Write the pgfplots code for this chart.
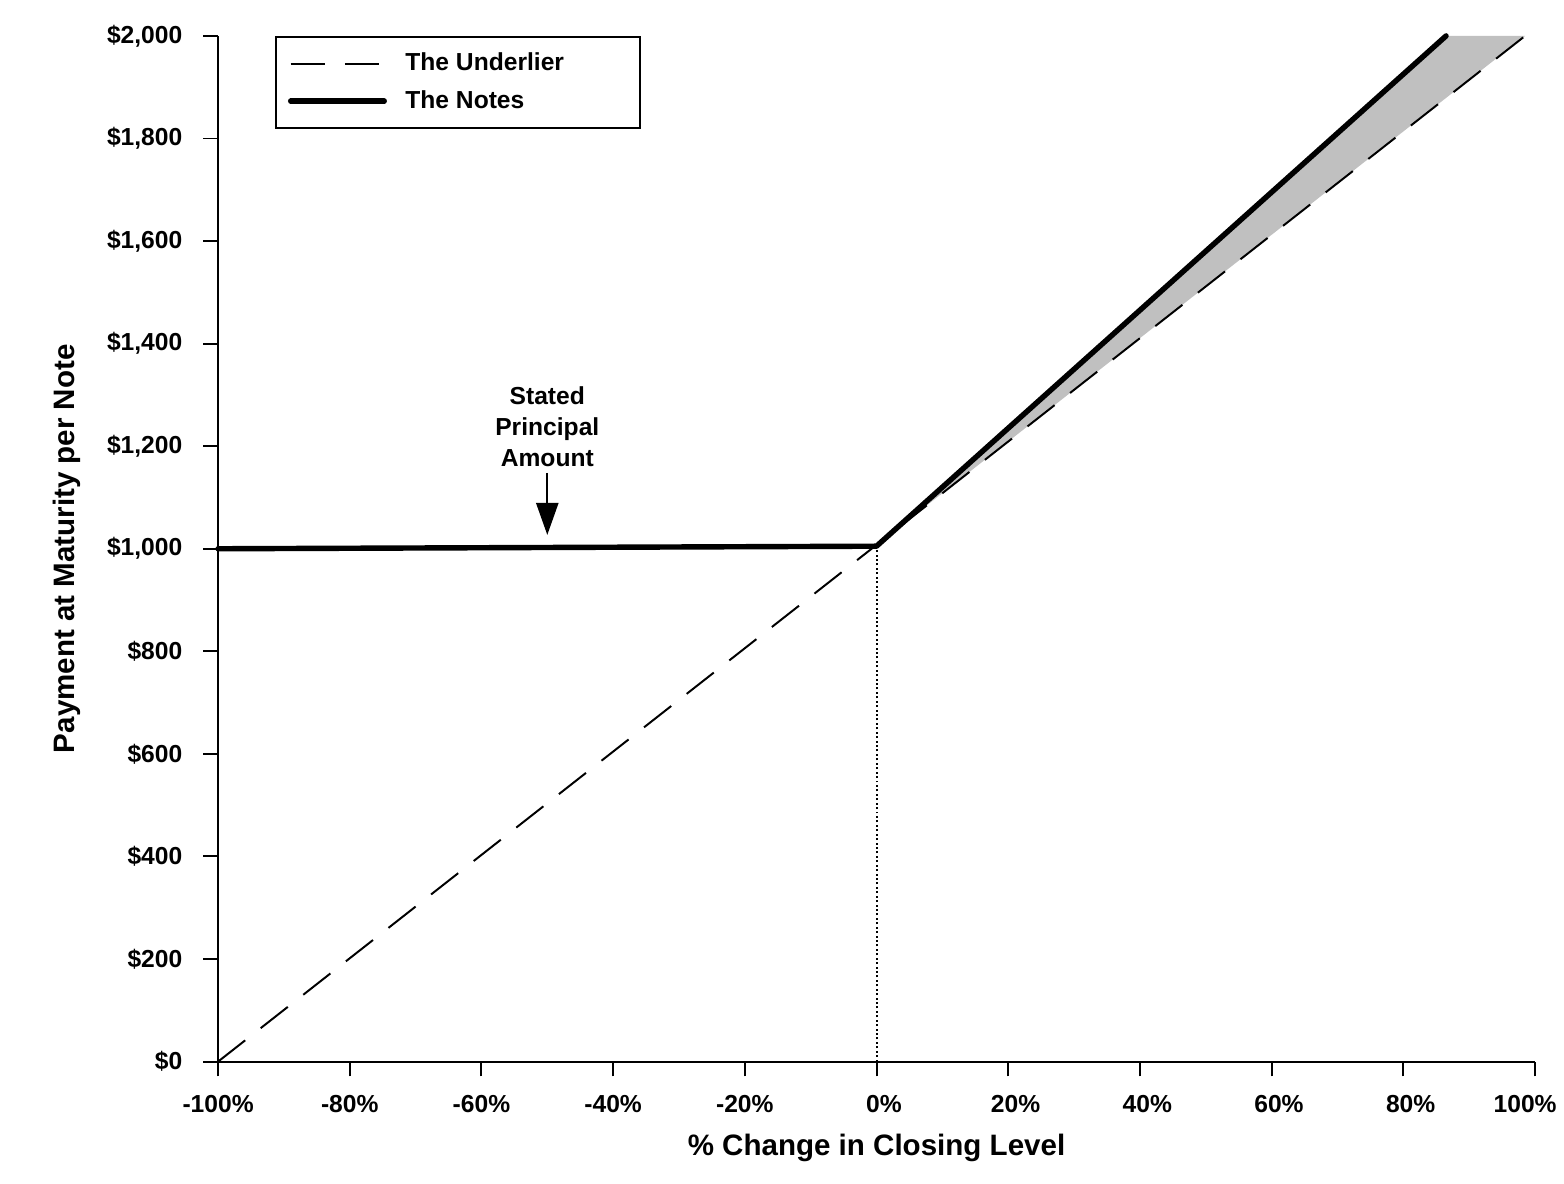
\documentclass[border=0pt]{standalone}
\usepackage{pgfplots}
\pgfplotsset{compat=1.18}
\usepackage{fontspec}
\setmainfont{Liberation Sans}
\usetikzlibrary{arrows.meta}
\definecolor{fillgray}{RGB}{192,192,192}
\begin{document}
\begin{tikzpicture}
\useasboundingbox (-88.6pt,-49.6pt) rectangle (546.8pt,431.3pt);
\begin{axis}[
  at={(0,0)}, anchor=south west,
  scale only axis, width=535pt, height=416.7pt,
  xmin=-100, xmax=100, ymin=0, ymax=2000,
  axis x line*=bottom, axis y line*=left,
  axis line style={line width=0.8pt, -},
  tick align=outside, major tick length=6pt,
  tick style={line width=0.8pt, black},
  xtick={-100,-80,...,100},
  xticklabels={-100\%,-80\%,-60\%,-40\%,-20\%,\hspace*{6pt}0\%,\hspace*{6pt}20\%,\hspace*{6pt}40\%,\hspace*{6pt}60\%,\hspace*{6pt}80\%,100\%\hspace*{8pt}},
  ytick={0,200,...,2000},
  yticklabels={\$0,\$200,\$400,\$600,\$800,{\$1,000},{\$1,200},{\$1,400},{\$1,600},{\$1,800},{\$2,000}},
  ticklabel style={font=\fontsize{10}{12}\selectfont\bfseries},
  yticklabel style={xshift=-5pt},
  xticklabel style={yshift=-4pt},
  xlabel={\% Change in Closing Level},
  ylabel={Payment at Maturity per Note},
  label style={font=\fontsize{12}{14}\selectfont\bfseries},
  xlabel style={at={(axis description cs:0.5,-0.0845)}, anchor=center},
  ylabel style={at={(axis description cs:-0.1148,0.5)}, anchor=center, rotate=0},
  clip=false,
  legend cell align=left,
  legend image code/.code={\draw[#1] (0pt,0pt) -- (38pt,0pt);},
  legend style={at={(axis description cs:0.043,1)}, anchor=north west,
    draw=black, line width=0.8pt,
    font=\fontsize{10}{12}\selectfont\bfseries,
    inner xsep=5pt, inner ysep=4.5pt,
    /tikz/row sep=2.5pt,
    /tikz/every odd column/.append style={column sep=5.5pt}},
]
% shaded region between Notes and Underlier
\addplot[fill=fillgray, draw=none, forget plot] coordinates {
  (0,1005) (86.5,2000) (98.5,2000) (0,1007.6)
} -- cycle;
% vertical dotted line at 0%
\addplot[densely dotted, line width=0.8pt, forget plot] coordinates {(0,0) (0,1005)};
% The Underlier
\addplot[line width=0.8pt, dash pattern=on 14pt off 8pt] coordinates {(-100,0) (98.5,2000)};
\addlegendentry{The Underlier\rule{24pt}{0pt}}
% The Notes
\addplot[line width=2.2pt, line cap=round, line join=round] coordinates {(-100,1000) (0,1005) (86.5,2000)};
\addlegendentry{The Notes}
% annotation
\node[align=center, font=\fontsize{10}{12.6}\selectfont\bfseries] at (axis cs:-50,1238) {Stated\\Principal\\Amount};
\draw[line width=0.8pt, -{Triangle[width=9pt,length=13pt]}] (axis cs:-50,1148) -- (axis cs:-50,1027);
\end{axis}
\end{tikzpicture}
\end{document}
